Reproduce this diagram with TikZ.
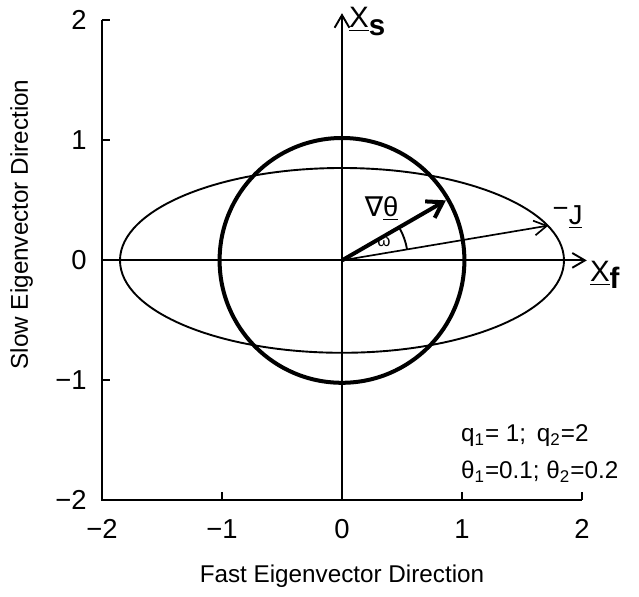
\documentclass[tikz,border=0pt]{standalone}
\usepackage{fontspec}
\setmainfont{Liberation Sans}
\newfontfamily\symfont{DejaVu Sans}
\usetikzlibrary{arrows.meta}

\begin{document}
\begin{tikzpicture}[
        x=2cm,
        y=2cm,
        font=\fontsize{11.5}{13}\selectfont,
        line-frame/.style={
            line width=1pt,
        },
        line-axis/.style={
            line width=0.9pt,
            -{Straight Barb[length=6pt,width=7pt]},
        },
        line-curve/.style={
            line width=0.9pt,
        },
        line-bold/.style={
            line width=1.9pt,
        },
        vec-thin/.style={
            line width=0.8pt,
            -{Straight Barb[length=6pt,width=7pt]},
        },
        vec-bold/.style={
            line width=1.9pt,
            -{Straight Barb[length=7pt,width=9pt]},
        },
        tick-label/.style={
            inner sep=2pt,
            font=\fontsize{13}{15}\selectfont,
        },
        axis-label/.style={
            font=\fontsize{14}{16}\selectfont,
        },
    ]
    \useasboundingbox (-2.85, -2.8) rectangle (2.475, 2.17);

    % Points.
    \coordinate (O) at (0, 0);
    \coordinate (xleft) at (-2, 0);
    \coordinate (xtip) at (2.04, 0);
    \coordinate (ybot) at (0, -2);
    \coordinate (ytip) at (0, 2.06);
    \coordinate (gradtip) at (30:1);
    \coordinate (jtip) at (1.72, 0.29);

    % Frame and ticks.
    \draw[line-frame] (-2, 2) -- (-2, -2) -- (2, -2);
    \foreach \t in {-1, 1, 2}
    \draw[line-frame] (\t, -2) -- ++(0, 0.07);
    \foreach \t in {-1, 1, 2}
    \draw[line-frame] (-2, \t) -- ++(0.07, 0);

    \foreach \t/\s in {-2/{−2}, -1/{−1}, 0/0, 1/1, 2/2}
    \node[tick-label, anchor=north] (xl\t) at (\t, -2.12) {\s};
    \foreach \t/\s in {-2/{−2}, -1/{−1}, 0/0, 1/1, 2/2}
    \node[tick-label, anchor=east] (yl\t) at (-2.09, \t) {\s};

    % Axis titles.
    \node (xtitle) at (0, -2.63) {Fast Eigenvector Direction};
    \node[rotate=90] (ytitle) at (-2.67, 0.3) {Slow Eigenvector Direction};

    % Eigenvector axes.
    \draw[line-axis] (xleft) -- (xtip);
    \draw[line-axis] (ybot) -- (ytip);
    \node[axis-label] (xf) at (2.19, -0.12) {\underline{X}\raisebox{-0.5ex}{\bfseries f}};
    \node[axis-label] (xs) at (0.21, 1.99) {\underline{X}\raisebox{-0.5ex}{\bfseries s}};

    % Level sets.
    \draw[line-curve] (O) ellipse [x radius=1.85, y radius=0.77];
    \draw[line-bold] (O) circle [radius=1.02];

    % Vectors.
    \draw[vec-thin] (O) -- (jtip);
    \draw[vec-bold] (O) -- (gradtip);
    \draw[line-curve] (O) ++(9.6:0.55) arc (9.6:30:0.55);

    \node[font=\fontsize{13}{15}\selectfont] (grad) at (0.33, 0.43) {{\symfont ∇}\underline{θ}};
    \node[font=\fontsize{8}{9}\selectfont] (omega) at (0.35, 0.15) {ω};
    \node[font=\fontsize{13}{15}\selectfont] (jlab) at (1.88, 0.36) {\raisebox{0.5ex}{−}\underline{J}};

    % Parameters.
    \node[anchor=west] (qpar) at (0.93, -1.46) {q\textsubscript{1}= 1; \,q\textsubscript{2}=2};
    \node[anchor=west] (thpar) at (0.93, -1.76) {θ\textsubscript{1}=0.1; θ\textsubscript{2}=0.2};
\end{tikzpicture}
\end{document}
